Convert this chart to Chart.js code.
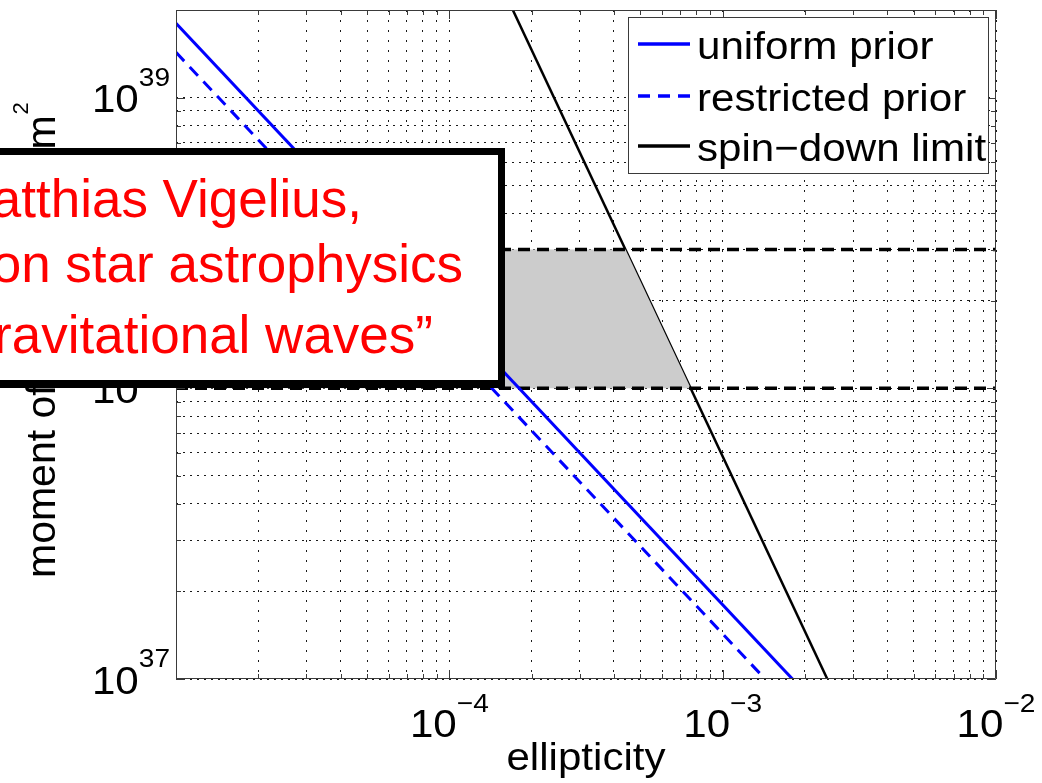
<!DOCTYPE html>
<html lang="en">
  <head>
    <meta charset="UTF-8" />
    <title>Moment of inertia vs ellipticity</title>
    <script src="https://cdn.jsdelivr.net/npm/chart.js@4.4.1/dist/chart.umd.min.js"></script>
    <style>
      * {
        margin: 0;
        padding: 0;
        box-sizing: border-box;
      }
      body {
        width: 1042px;
        height: 783px;
        overflow: hidden;
        position: relative;
        background: #fff;
        font-family: "Liberation Sans", Arial, sans-serif;
      }
      #plot {
        position: absolute;
        left: 0;
        top: 0;
      }
      .note {
        position: absolute;
        left: -400px;
        top: 148px;
        width: 905px;
        height: 240px;
        border: 7px solid #000;
        border-bottom-width: 8px;
        background: #fff;
      }
      .note div {
        position: absolute;
        color: #ff0000;
        font-size: 53px;
        line-height: 53px;
        white-space: nowrap;
      }
    </style>
  </head>
  <body>
    <canvas id="plot" width="1042" height="783"></canvas>
    <div class="note">
      <div style="top: 17px; right: 136px">Matthias Vigelius,</div>
      <div style="top: 82px; right: 35px">“Neutron star astrophysics</div>
      <div style="top: 153px; right: 65px">with gravitational waves”</div>
    </div>
    <script>
      // axis limits
      const epsRange = [1e-5, 1e-2];
      const inertiaRange = [1e37, 2e39];
      const xExponents = [-4, -3, -2];
      const yExponents = [37, 38, 39];

      const seriesLabels = ["uniform prior", "restricted prior", "spin\u2212down limit"];

      // every curve is a straight line in log-log, so two end points do
      const lineEps = [1e-5, 1e-2];
      const uniformI = [1.8e39, 1.8e36];
      const restrictedI = [1.43e39, 1.43e36];
      const spindownI = [5.83e41, 5.83e35];

      // allowed range of I and where the spin-down limit cuts it
      const bandLevels = [1e38, 3e38];
      const bandEps = [1e-5, 4.41e-4, 7.64e-4];

      const FONT = '"Liberation Sans", Arial, sans-serif';
      const AXIS = "#3a3a3a";
      const SX = 1.08;

      const pts = (xs, ys) => xs.map((x, i) => ({ x: x, y: ys[i] }));

      const logTicks = (min, max) => {
        const out = [];
        const e0 = Math.floor(Math.log10(min));
        const e1 = Math.ceil(Math.log10(max));
        for (let e = e0; e <= e1; e++) {
          for (let m = 1; m < 10; m++) {
            const v = m * Math.pow(10, e);
            if (v >= min * 0.999999 && v <= max * 1.000001) out.push({ value: v });
          }
        }
        return out;
      };
      const isDecade = (v) => {
        const l = Math.log10(v);
        return Math.abs(l - Math.round(l)) < 1e-9;
      };

      const textW = (ctx, s, size) => {
        ctx.font = size + "px " + FONT;
        return ctx.measureText(s).width * SX;
      };
      const text = (ctx, s, x, y, size) => {
        ctx.save();
        ctx.font = size + "px " + FONT;
        ctx.translate(x, y);
        ctx.scale(SX, 1);
        ctx.textAlign = "left";
        ctx.textBaseline = "alphabetic";
        ctx.fillText(s, 0, 0);
        ctx.restore();
      };

      // 10 with a raised exponent
      const power = (ctx, exp, x, y, align) => {
        const base = "10";
        const sup = String(exp).replace("-", "\u2212");
        const wb = textW(ctx, base, 39);
        const ws = textW(ctx, sup, 26);
        if (align === "center") {
          const left = x - (wb + ws) / 2;
          text(ctx, base, left, y + 58, 39);
          text(ctx, sup, left + wb, y + 33, 26);
        } else {
          const left = x - wb - ws;
          text(ctx, base, left, y + 14.5, 39);
          text(ctx, sup, left + wb, y - 12, 26);
        }
      };

      const frame = {
        id: "frame",
        afterDatasetsDraw(chart) {
          const { ctx, chartArea: a, scales } = chart;
          const x = scales.x;
          const y = scales.y;
          ctx.save();
          ctx.fillStyle = "#000";

          // box and inward ticks on all four sides
          ctx.strokeStyle = AXIS;
          ctx.lineWidth = 1;
          ctx.setLineDash([]);
          ctx.beginPath();
          x.ticks.forEach((t) => {
            const px = Math.round(x.getPixelForValue(t.value)) + 0.5;
            const len = isDecade(t.value) ? 9 : 5;
            ctx.moveTo(px, a.bottom);
            ctx.lineTo(px, a.bottom - len);
            ctx.moveTo(px, a.top);
            ctx.lineTo(px, a.top + len);
          });
          y.ticks.forEach((t) => {
            const py = Math.round(y.getPixelForValue(t.value)) + 0.5;
            const len = isDecade(t.value) ? 9 : 5;
            ctx.moveTo(a.left, py);
            ctx.lineTo(a.left + len, py);
            ctx.moveTo(a.right, py);
            ctx.lineTo(a.right - len, py);
          });
          ctx.rect(a.left + 0.5, a.top + 0.5, a.right - a.left - 1, a.bottom - a.top - 1);
          ctx.stroke();

          // tick labels
          xExponents.forEach((e) => power(ctx, e, x.getPixelForValue(Math.pow(10, e)), a.bottom, "center"));
          yExponents.forEach((e) => power(ctx, e, a.left - 6, y.getPixelForValue(Math.pow(10, e)), "right"));

          // axis titles
          const tw = textW(ctx, "ellipticity", 39);
          text(ctx, "ellipticity", (a.left + a.right) / 2 - tw / 2, 770, 39);

          ctx.save();
          ctx.translate(55, 578);
          ctx.rotate(-Math.PI / 2);
          ctx.font = "41px " + FONT;
          const yTitle = "moment of inertia I / kg m";
          ctx.fillText(yTitle, 0, 0);
          const wt = ctx.measureText(yTitle).width;
          ctx.font = "22px " + FONT;
          ctx.fillText("2", wt + 1, -27);
          ctx.restore();

          // legend
          const lx = 628.5, ly = 17.5, lw = 360, lh = 156;
          ctx.fillStyle = "#fff";
          ctx.fillRect(lx, ly, lw, lh);
          ctx.strokeStyle = AXIS;
          ctx.lineWidth = 1;
          ctx.strokeRect(lx, ly, lw, lh);
          const rows = [44, 96, 146];
          const entries = chart.data.datasets.filter((d) => seriesLabels.includes(d.label));
          entries.sort((p, q) => seriesLabels.indexOf(p.label) - seriesLabels.indexOf(q.label));
          entries.forEach((d, i) => {
            ctx.strokeStyle = d.borderColor;
            ctx.lineWidth = 3.5;
            ctx.setLineDash(d.borderDash || []);
            ctx.beginPath();
            ctx.moveTo(638, rows[i]);
            ctx.lineTo(690, rows[i]);
            ctx.stroke();
            ctx.setLineDash([]);
            ctx.fillStyle = "#000";
            text(ctx, d.label, 697, rows[i] + 15, 39);
          });
          ctx.restore();
        },
      };

      const datasets = [
        {
          label: seriesLabels[0],
          data: pts(lineEps, uniformI),
          borderColor: "#0000ff",
          borderWidth: 3,
          order: 1,
        },
        {
          label: seriesLabels[1],
          data: pts(lineEps, restrictedI),
          borderColor: "#0000ff",
          borderWidth: 3,
          borderDash: [12, 8],
          order: 2,
        },
        ...bandLevels.map((v) => ({
          data: pts(epsRange, [v, v]),
          borderColor: "#000",
          borderWidth: 3.5,
          borderDash: [12, 7],
          order: 3,
        })),
        {
          data: [
            { x: bandEps[0], y: bandLevels[0] },
            { x: bandEps[0], y: bandLevels[1] },
            { x: bandEps[1], y: bandLevels[1] },
            { x: bandEps[2], y: bandLevels[0] },
          ],
          fill: "shape",
          backgroundColor: "#cccccc",
          borderColor: "rgba(0,0,0,0)",
          borderWidth: 1,
          order: 4,
        },
        {
          label: seriesLabels[2],
          data: pts(lineEps, spindownI),
          borderColor: "#000",
          borderWidth: 2.5,
          order: 5,
        },
      ];

      const chart = new Chart(document.getElementById("plot"), {
        type: "line",
        data: { datasets: datasets },
        plugins: [frame],
        options: {
          responsive: false,
          animation: false,
          devicePixelRatio: 1,
          layout: { padding: { left: 176, top: 10, right: 46, bottom: 104 } },
          elements: {
            point: { radius: 0, hoverRadius: 0 },
            line: { tension: 0, fill: false },
          },
          plugins: {
            legend: { display: false },
            tooltip: { enabled: false },
          },
          scales: {
            x: {
              type: "logarithmic",
              min: epsRange[0],
              max: epsRange[1],
              afterBuildTicks: (axis) => {
                axis.ticks = logTicks(epsRange[0], epsRange[1]);
              },
              ticks: { display: false },
              grid: { color: "#1a1a1a", lineWidth: 1, drawTicks: false },
              border: { display: false, dash: [2, 8] },
            },
            y: {
              type: "logarithmic",
              min: inertiaRange[0],
              max: inertiaRange[1],
              afterBuildTicks: (axis) => {
                axis.ticks = logTicks(inertiaRange[0], inertiaRange[1]);
              },
              ticks: { display: false },
              grid: { color: "#1a1a1a", lineWidth: 1, drawTicks: false },
              border: { display: false, dash: [2, 5] },
            },
          },
        },
      });
    </script>
  </body>
</html>
